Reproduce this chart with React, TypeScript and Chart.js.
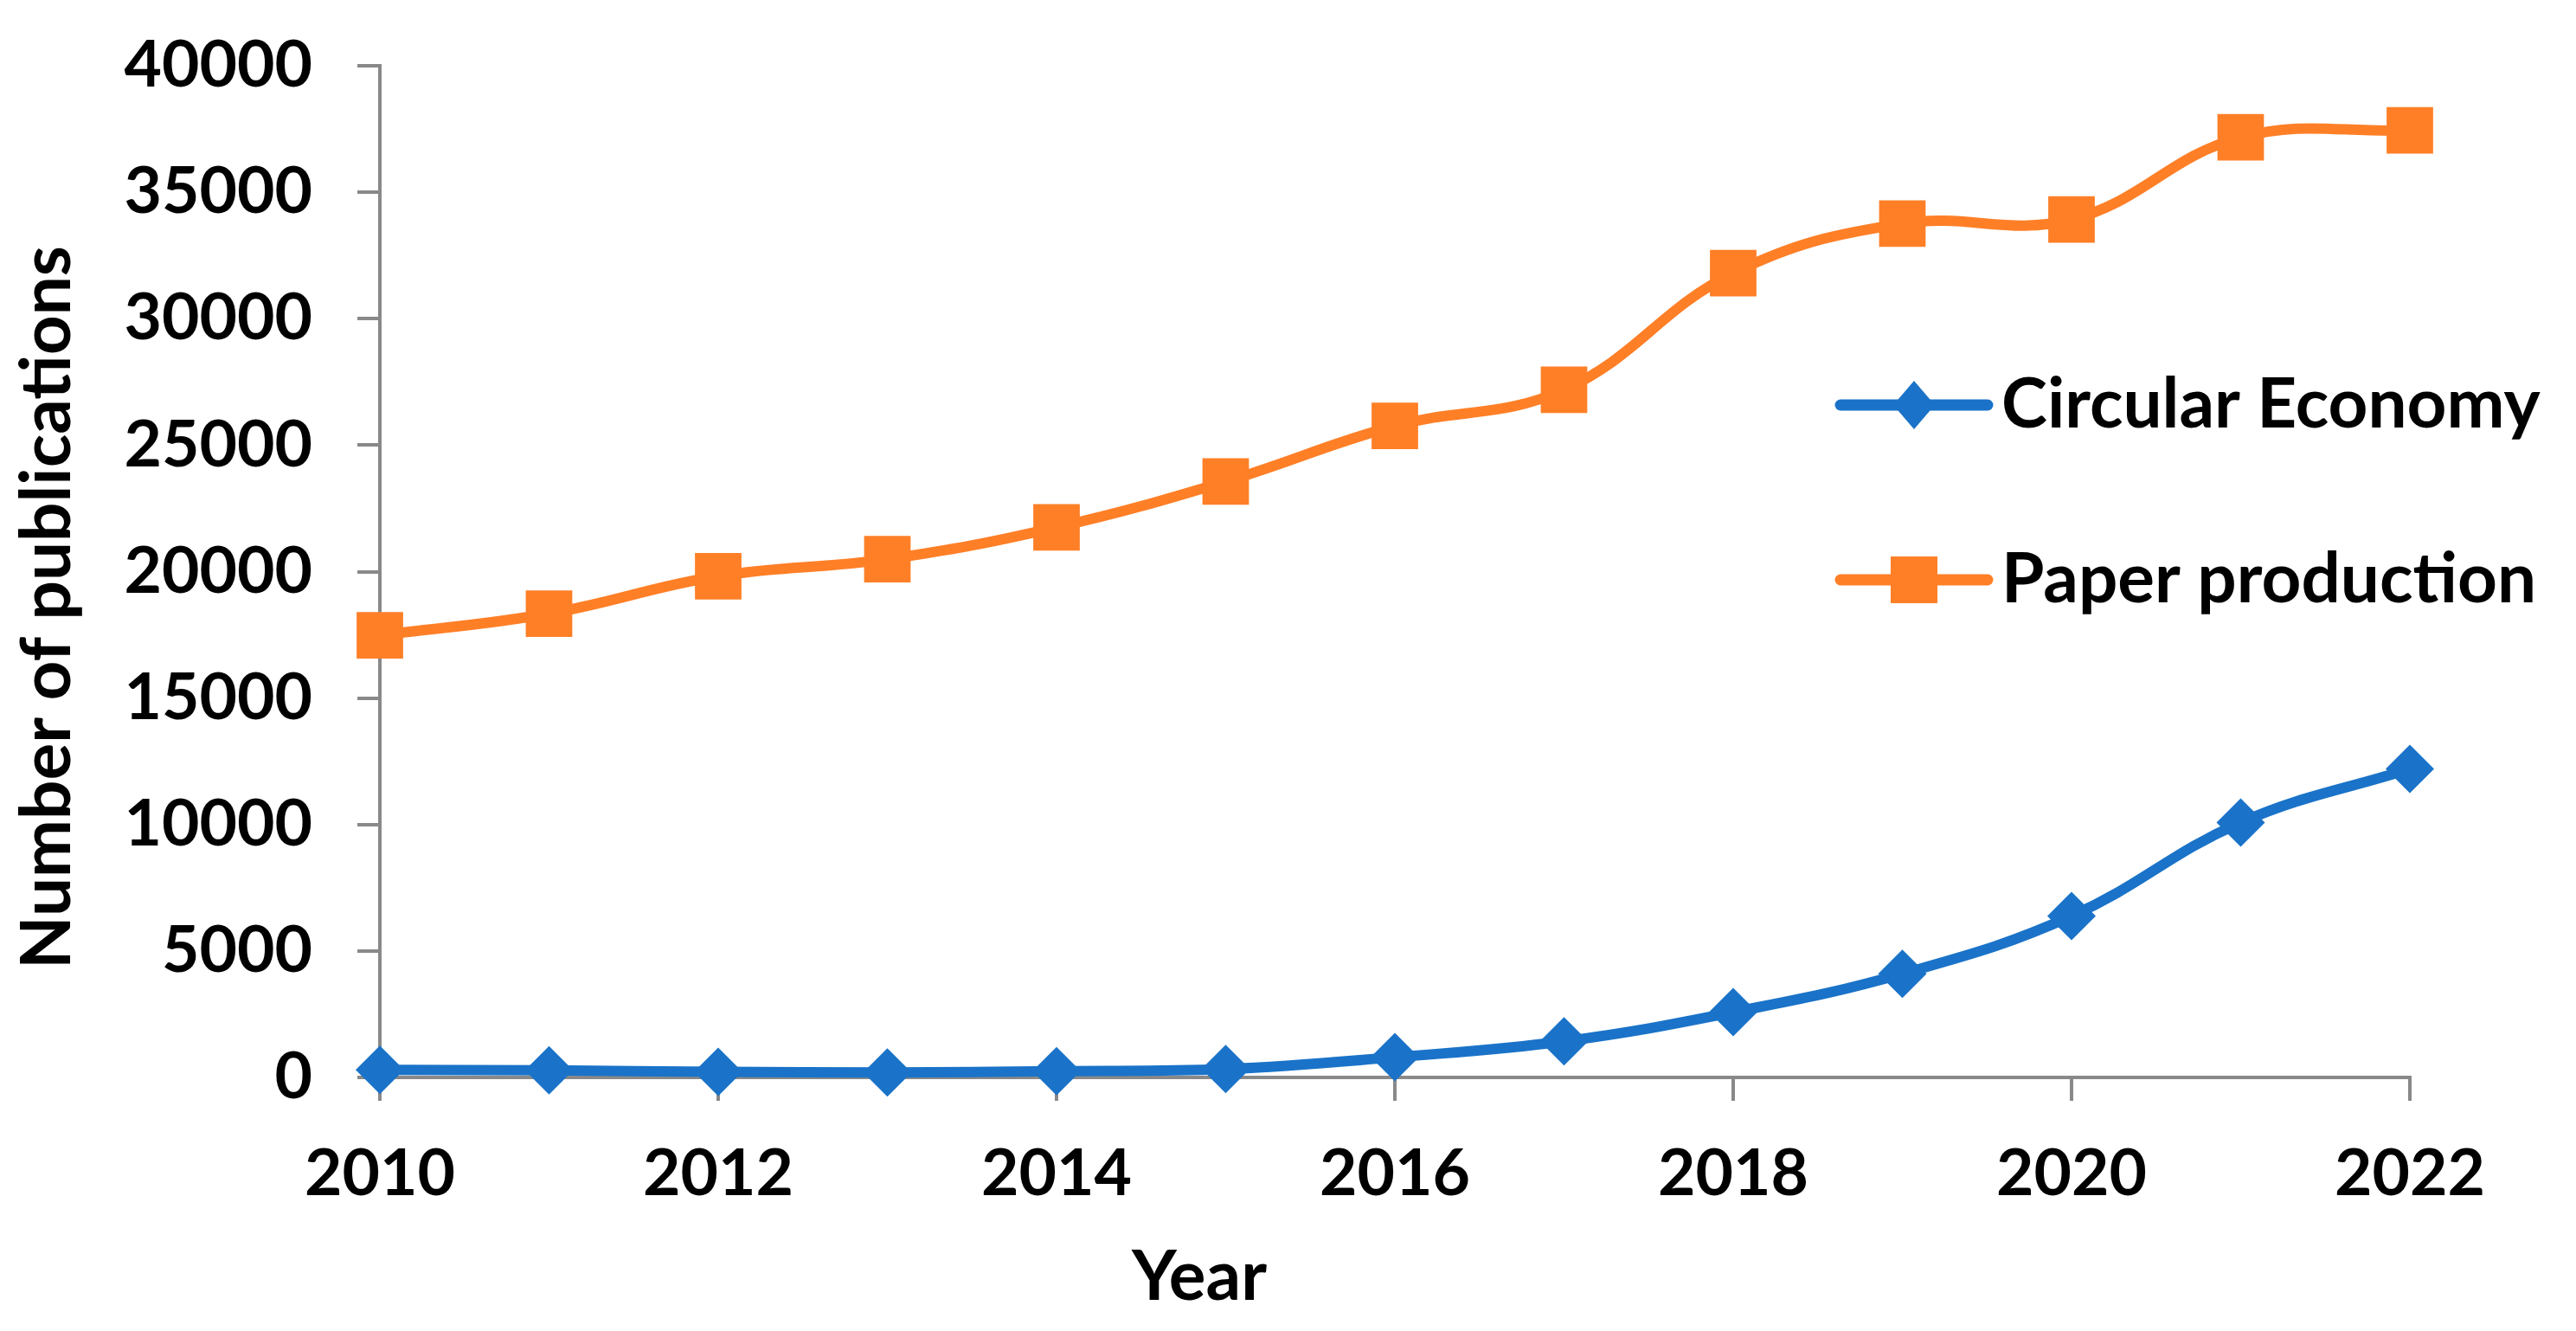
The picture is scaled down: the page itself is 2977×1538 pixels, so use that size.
import React, { useEffect, useRef } from "react";
import { Chart, registerables } from "chart.js";

Chart.register(...registerables);

const years = [2010, 2011, 2012, 2013, 2014, 2015, 2016, 2017, 2018, 2019, 2020, 2021, 2022];
const circularEconomy = [300, 280, 220, 200, 250, 330, 800, 1430, 2580, 4100, 6380, 10080, 12200];
const paperProduction = [17480, 18340, 19820, 20490, 21750, 23560, 25760, 27190, 31800, 33760, 33920, 37170, 37450];
const seriesLabels = ["Circular Economy", "Paper production"];
const seriesColors = ["#1A73C8", "#FF7F27"];
const xTitle = "Year";
const yTitle = "Number of publications";

const FONT = "Lato";
const FONT_SIZE = 75;
const TEXT_SIZE = 80;
const AXIS_GRAY = "#898989";

const overlayPlugin = {
  id: "overlay",
  afterDraw(chart: any) {
    const ctx = chart.ctx;
    ctx.save();
    ctx.fillStyle = "#000";
    ctx.font = `bold ${TEXT_SIZE}px ${FONT}`;
    // x title
    ctx.textAlign = "center";
    ctx.textBaseline = "alphabetic";
    ctx.fillText(xTitle, 1386, 1502);
    // y title
    ctx.save();
    ctx.translate(81, 702);
    ctx.rotate(-Math.PI / 2);
    ctx.fillText(yTitle, 0, 0);
    ctx.restore();
    // legend
    const rows = [
      { y: 468, base: 494 },
      { y: 670, base: 696 },
    ];
    chart.data.datasets.forEach((ds: any, i: number) => {
      const r = rows[i];
      ctx.strokeStyle = ds.borderColor;
      ctx.lineWidth = 13;
      ctx.lineCap = "round";
      ctx.beginPath();
      ctx.moveTo(2127, r.y);
      ctx.lineTo(2297, r.y);
      ctx.stroke();
      ctx.fillStyle = ds.borderColor;
      ctx.beginPath();
      if (ds.pointStyle === "rect") {
        ctx.rect(2212 - 27, r.y - 27, 54, 54);
      } else {
        ctx.moveTo(2212, r.y - 28);
        ctx.lineTo(2212 + 24, r.y);
        ctx.lineTo(2212, r.y + 28);
        ctx.lineTo(2212 - 24, r.y);
        ctx.closePath();
      }
      ctx.fill();
      ctx.fillStyle = "#000";
      ctx.textAlign = "left";
      ctx.textBaseline = "alphabetic";
      ctx.fillText(ds.label, 2313, r.base);
    });
    ctx.restore();
  },
};

export default function App() {
  const canvasRef = useRef<HTMLCanvasElement | null>(null);

  useEffect(() => {
    document.body.style.margin = "0";
    const canvas = canvasRef.current;
    if (!canvas) return;
    const tickFont = { family: FONT, size: FONT_SIZE, weight: "bold" as const };
    const chart = new Chart(canvas, {
      type: "line",
      data: {
        datasets: [
          {
            label: seriesLabels[0],
            data: years.map((y, i) => ({ x: y, y: circularEconomy[i] })),
            borderColor: seriesColors[0],
            backgroundColor: seriesColors[0],
            borderWidth: 12,
            pointStyle: "rectRot",
            pointRadius: 28,
            pointBorderWidth: 0,
            tension: 0.4,
            clip: false,
          } as any,
          {
            label: seriesLabels[1],
            data: years.map((y, i) => ({ x: y, y: paperProduction[i] })),
            borderColor: seriesColors[1],
            backgroundColor: seriesColors[1],
            borderWidth: 12,
            pointStyle: "rect",
            pointRadius: 38,
            pointBorderWidth: 0,
            tension: 0.4,
            clip: false,
          } as any,
        ],
      },
      options: {
        animation: false,
        responsive: false,
        maintainAspectRatio: false,
        layout: { padding: { top: 76, right: 192, left: 0, bottom: 0 } },
        plugins: {
          legend: { display: false },
          tooltip: { enabled: false },
        },
        scales: {
          x: {
            type: "linear",
            min: 2010,
            max: 2022,
            ticks: {
              stepSize: 2,
              callback: (v: any) => String(v),
              font: tickFont,
              color: "#000",
              padding: 40,
              maxRotation: 0,
              autoSkip: false,
            },
            grid: {
              drawOnChartArea: false,
              drawTicks: true,
              tickLength: 27,
              color: AXIS_GRAY,
              lineWidth: 4,
            },
            border: { display: true, color: AXIS_GRAY, width: 4 },
            afterFit: (s: any) => {
              s.height = 293;
              s.paddingLeft = 0;
              s.paddingRight = 0;
            },
          },
          y: {
            min: 0,
            max: 40000,
            ticks: {
              stepSize: 5000,
              callback: (v: any) => String(v),
              font: tickFont,
              color: "#000",
              padding: 52,
            },
            grid: {
              drawOnChartArea: false,
              drawTicks: true,
              tickLength: 26,
              color: AXIS_GRAY,
              lineWidth: 4,
            },
            border: { display: true, color: AXIS_GRAY, width: 4 },
            afterFit: (s: any) => {
              s.width = 439;
              s.paddingTop = 0;
              s.paddingBottom = 0;
            },
          },
        },
      } as any,
      plugins: [overlayPlugin],
    });
    return () => chart.destroy();
  }, []);

  return (
    <div style={{ width: 2977, height: 1538, background: "#fff" }}>
      <canvas ref={canvasRef} width={2977} height={1538} style={{ display: "block" }} />
    </div>
  );
}
